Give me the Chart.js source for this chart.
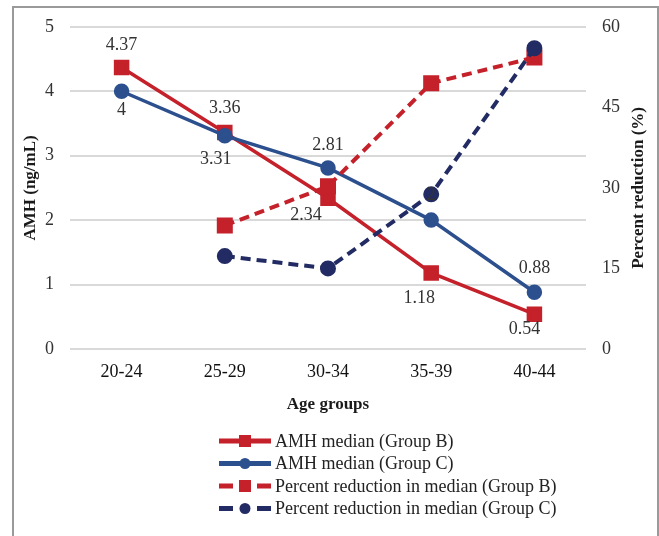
<!DOCTYPE html>
<html>
<head>
<meta charset="utf-8">
<script src="https://cdn.jsdelivr.net/npm/chart.js"></script>
<style>
  html, body { margin: 0; padding: 0; background: #fff; }
  #wrap { position: relative; width: 659px; height: 536px; }
</style>
</head>
<body>
<div id="wrap"><canvas id="amhChart"></canvas></div>
<script>

const ageGroups = ["20-24", "25-29", "30-34", "35-39", "40-44"];

const amhGroupB = [4.37, 3.36, 2.34, 1.18, 0.54];
const amhGroupC = [4, 3.31, 2.81, 2, 0.88];

const reductionGroupB = [null, 23, 30.3, 49.5, 54.3];
const reductionGroupC = [null, 17.3, 15, 28.8, 56];

const amhTicks = [0, 1, 2, 3, 4, 5];
const reductionTicks = [0, 15, 30, 45, 60];


const RED = "#c4212b";
const BLUE = "#2c4f8e";
const NAVY = "#222b63";
const SERIF = "'Liberation Serif', 'Times New Roman', serif";


// where each value label sits relative to its point
const labelOffsets = {
    0: [[0, -22], [0, -24], [-22, 17], [-12, 25], [-10, 15]],
    1: [[0, 19], [-9, 24], [0, -23], [0, -25], [0, -24]]
};


const frame = {
    id: "frame",
    beforeDraw(chart) {
        const ctx = chart.ctx;
        ctx.save();
        ctx.fillStyle = "#fff";
        ctx.fillRect(0, 0, chart.width, chart.height);
        ctx.strokeStyle = "#9a9a9a";
        ctx.lineWidth = 2;
        ctx.strokeRect(13, 7, 645, 540);
        ctx.restore();
    }
};


const valueLabels = {
    id: "valueLabels",
    afterDatasetsDraw(chart) {
        const ctx = chart.ctx;
        ctx.save();
        ctx.font = "18px " + SERIF;
        ctx.fillStyle = "#333";
        ctx.textAlign = "center";
        ctx.textBaseline = "middle";
        Object.keys(labelOffsets).forEach((idx) => {
            const meta = chart.getDatasetMeta(+idx);
            const values = chart.data.datasets[idx].data;
            meta.data.forEach((pt, i) => {
                const off = labelOffsets[idx][i];
                ctx.fillText(String(values[i]), pt.x + off[0], pt.y + off[1]);
            });
        });
        ctx.restore();
    }
};


function drawMarker(ctx, style, x, y, color) {
    ctx.fillStyle = color;
    if (style === "rect") {
        ctx.fillRect(x - 6, y - 6, 12, 12);
    } else {
        ctx.beginPath();
        ctx.arc(x, y, 5.5, 0, Math.PI * 2);
        ctx.fill();
    }
}


const titlesAndLegend = {
    id: "titlesAndLegend",
    afterDraw(chart) {
        const ctx = chart.ctx;
        const area = chart.chartArea;
        const midY = (area.top + area.bottom) / 2;

        ctx.save();
        ctx.fillStyle = "#1a1a1a";
        ctx.font = "bold 17px " + SERIF;
        ctx.textAlign = "center";
        ctx.textBaseline = "middle";

        ctx.fillText("Age groups", (area.left + area.right) / 2, 405);

        ctx.save();
        ctx.translate(31, midY);
        ctx.rotate(-Math.PI / 2);
        ctx.fillText("AMH (ng/mL)", 0, 0);
        ctx.restore();

        ctx.save();
        ctx.translate(639, midY);
        ctx.rotate(-Math.PI / 2);
        ctx.fillText("Percent reduction (%)", 0, 0);
        ctx.restore();

        // legend, one row per series
        ctx.font = "18px " + SERIF;
        ctx.textAlign = "left";
        ctx.fillStyle = "#222";
        chart.data.datasets.forEach((ds, i) => {
            const y = 441 + i * 22.5;
            const x0 = 219, x1 = 271, xm = 245;
            ctx.strokeStyle = ds.borderColor;
            ctx.lineWidth = 5;
            ctx.beginPath();
            if (ds.borderDash) {
                ctx.moveTo(x0, y); ctx.lineTo(x0 + 14, y);
                ctx.moveTo(x1 - 14, y); ctx.lineTo(x1, y);
            } else {
                ctx.moveTo(x0, y); ctx.lineTo(x1, y);
            }
            ctx.stroke();
            drawMarker(ctx, ds.pointStyle, xm, y, ds.borderColor);
            ctx.fillStyle = "#222";
            ctx.fillText(ds.label, 275, y + 1);
        });

        ctx.restore();
    }
};


new Chart(document.getElementById("amhChart"), {
    type: "line",
    data: {
        labels: ageGroups,
        datasets: [
            {
                label: "AMH median (Group B)",
                data: amhGroupB,
                yAxisID: "yAmh",
                order: 3,
                borderColor: RED,
                backgroundColor: RED,
                borderWidth: 3.5,
                pointStyle: "rect",
                pointRadius: 8.5,
                pointHoverRadius: 8.5
            },
            {
                label: "AMH median (Group C)",
                data: amhGroupC,
                yAxisID: "yAmh",
                order: 2,
                borderColor: BLUE,
                backgroundColor: BLUE,
                borderWidth: 3.5,
                pointStyle: "circle",
                pointRadius: 6,
                pointHoverRadius: 6
            },
            {
                label: "Percent reduction in median (Group B)",
                data: reductionGroupB,
                yAxisID: "yPct",
                order: 1,
                borderColor: RED,
                backgroundColor: RED,
                borderWidth: 4,
                borderDash: [10, 6],
                pointStyle: "rect",
                pointRadius: 8.5,
                pointHoverRadius: 8.5
            },
            {
                label: "Percent reduction in median (Group C)",
                data: reductionGroupC,
                yAxisID: "yPct",
                order: 0,
                borderColor: NAVY,
                backgroundColor: NAVY,
                borderWidth: 4,
                borderDash: [10, 6],
                pointStyle: "circle",
                pointRadius: 6,
                pointHoverRadius: 6
            }
        ]
    },
    options: {
        responsive: true,
        maintainAspectRatio: false,
        animation: false,
        layout: { padding: { top: 23, left: 0, right: 0, bottom: 0 } },
        plugins: {
            legend: { display: false },
            tooltip: { enabled: false }
        },
        scales: {
            x: {
                offset: true,
                grid: { display: false, drawTicks: false },
                border: { display: false },
                ticks: {
                    padding: 12,
                    color: "#111",
                    font: { family: SERIF, size: 18 }
                },
                afterFit(scale) { scale.height = 187; }
            },
            yAmh: {
                position: "left",
                min: 0,
                max: 5,
                afterBuildTicks(scale) {
                    scale.ticks = amhTicks.map((v) => ({ value: v }));
                },
                grid: { color: "#d9d9d9", lineWidth: 2, drawTicks: false },
                border: { display: false },
                ticks: {
                    padding: 16,
                    color: "#333",
                    font: { family: SERIF, size: 18 }
                },
                afterFit(scale) { scale.width = 70; }
            },
            yPct: {
                position: "right",
                min: 0,
                max: 60,
                afterBuildTicks(scale) {
                    scale.ticks = reductionTicks.map((v) => ({ value: v }));
                },
                grid: { display: false, drawTicks: false },
                border: { display: false },
                ticks: {
                    padding: 16,
                    color: "#333",
                    font: { family: SERIF, size: 18 }
                },
                afterFit(scale) { scale.width = 73; }
            }
        }
    },
    plugins: [frame, valueLabels, titlesAndLegend]
});

</script>
</body>
</html>
